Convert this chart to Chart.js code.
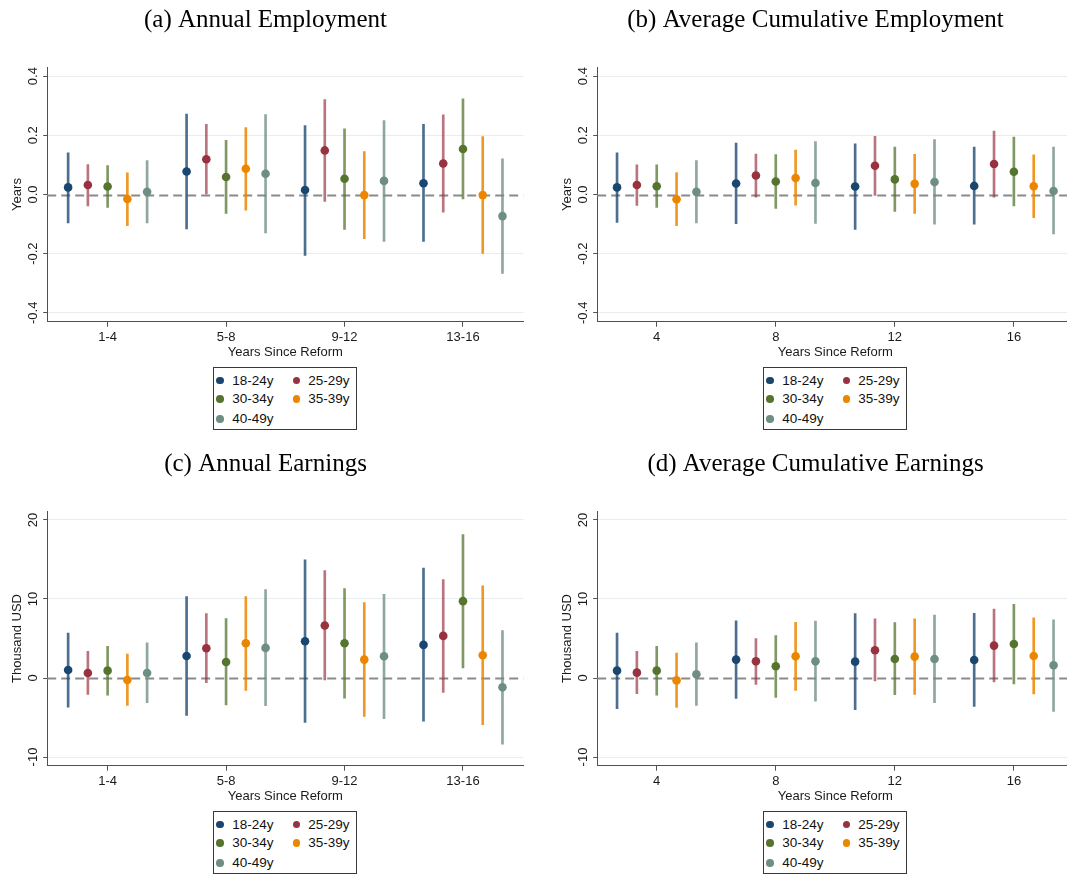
<!DOCTYPE html>
<html>
<head>
<meta charset="utf-8">
<script src="https://cdn.jsdelivr.net/npm/chart.js@4.4.1/dist/chart.umd.min.js"></script>
<style>
html,body{margin:0;padding:0;background:#fff;overflow:hidden;width:1067px;height:875px;}
#root{position:relative;width:1067px;height:875px;overflow:hidden;}
.panel{position:absolute;width:534px;height:445px;}
.panel canvas{position:absolute;left:0;top:0;}
.legend{position:absolute;left:212.7px;top:367.3px;width:144px;height:62.7px;border:1px solid #3a3a3a;box-sizing:border-box;font-family:"Liberation Sans",Arial,sans-serif;font-size:13.5px;color:#111;background:#fff;}
.item{position:absolute;white-space:nowrap;line-height:16px;height:16px;}
.dot{position:absolute;width:7.6px;height:7.6px;border-radius:50%;}
</style>
</head>
<body>
<div id="root"></div>
<script>
// ---------------- DATA ----------------
const SERIES = ['18-24y', '25-29y', '30-34y', '35-39y', '40-49y'];

// Annual panels: categories 1-4 ... 13-16
const ANNUAL_GROUPS = [1, 2, 3, 4];
const ANNUAL_TICK_LABELS = ['1-4', '5-8', '9-12', '13-16'];
// Cumulative panels: years 4, 8, 12, 16
const CUM_GROUPS = [4, 8, 12, 16];
const CUM_TICK_LABELS = ['4', '8', '12', '16'];

const EMP_TICKS = [-0.4, -0.2, 0, 0.2, 0.4];
const EMP_TICK_LABELS = ['-0.4', '-0.2', '0.0', '0.2', '0.4'];
const EARN_TICKS = [-10, 0, 10, 20];
const EARN_TICK_LABELS = ['-10', '0', '10', '20'];

// (a) Annual Employment  [series][group]
const annualEmpEst = [
  [0.024, 0.078, 0.015, 0.038],
  [0.032, 0.119, 0.149, 0.105],
  [0.027, 0.059, 0.053, 0.154],
  [-0.015, 0.087, -0.002, -0.002],
  [0.009, 0.070, 0.046, -0.073]
];
const annualEmpLo = [
  [-0.096, -0.116, -0.206, -0.159],
  [-0.039, 0.002, -0.023, -0.060],
  [-0.044, -0.064, -0.118, -0.015],
  [-0.105, -0.053, -0.149, -0.199],
  [-0.096, -0.130, -0.159, -0.267]
];
const annualEmpHi = [
  [0.141, 0.272, 0.233, 0.237],
  [0.101, 0.237, 0.321, 0.269],
  [0.098, 0.183, 0.222, 0.323],
  [0.073, 0.226, 0.145, 0.196],
  [0.115, 0.270, 0.250, 0.121]
];

// (b) Average Cumulative Employment
const cumEmpEst = [
  [0.024, 0.037, 0.027, 0.029],
  [0.032, 0.064, 0.097, 0.103],
  [0.028, 0.044, 0.051, 0.077],
  [-0.016, 0.056, 0.036, 0.028],
  [0.009, 0.039, 0.042, 0.012]
];
const cumEmpLo = [
  [-0.094, -0.099, -0.118, -0.100],
  [-0.037, -0.009, -0.003, -0.009],
  [-0.044, -0.047, -0.057, -0.039],
  [-0.105, -0.036, -0.064, -0.078],
  [-0.096, -0.098, -0.100, -0.133]
];
const cumEmpHi = [
  [0.141, 0.174, 0.171, 0.160],
  [0.100, 0.137, 0.197, 0.214],
  [0.100, 0.135, 0.160, 0.194],
  [0.074, 0.150, 0.136, 0.134],
  [0.115, 0.179, 0.186, 0.160]
];

// (c) Annual Earnings (thousand USD)
const annualEarnEst = [
  [1.01, 2.79, 4.65, 4.19],
  [0.63, 3.76, 6.64, 5.33],
  [0.93, 2.03, 4.40, 9.73],
  [-0.25, 4.40, 2.33, 2.88],
  [0.63, 3.81, 2.75, -1.18]
];
const annualEarnLo = [
  [-3.70, -4.74, -5.62, -5.45],
  [-2.07, -0.59, -0.25, -1.82],
  [-2.16, -3.42, -2.54, 1.27],
  [-3.47, -1.56, -4.86, -5.92],
  [-3.13, -3.51, -5.16, -8.37]
];
const annualEarnHi = [
  [5.70, 10.30, 14.97, 13.90],
  [3.38, 8.16, 13.60, 12.47],
  [4.00, 7.53, 11.33, 18.14],
  [3.04, 10.30, 9.56, 11.67],
  [4.44, 11.20, 10.60, 6.00]
];

// (d) Average Cumulative Earnings
const cumEarnEst = [
  [0.93, 2.33, 2.07, 2.28],
  [0.68, 2.11, 3.51, 4.10],
  [0.93, 1.48, 2.41, 4.31],
  [-0.30, 2.75, 2.71, 2.79],
  [0.47, 2.11, 2.41, 1.61]
];
const cumEarnLo = [
  [-3.89, -2.58, -4.02, -3.59],
  [-1.99, -0.80, -0.38, -0.51],
  [-2.16, -2.45, -2.11, -0.76],
  [-3.72, -1.56, -2.07, -2.03],
  [-3.47, -2.92, -3.13, -4.23]
];
const cumEarnHi = [
  [5.70, 7.23, 8.16, 8.20],
  [3.38, 4.99, 7.48, 8.71],
  [4.00, 5.37, 7.02, 9.34],
  [3.17, 7.06, 7.48, 7.61],
  [4.44, 7.19, 7.95, 7.36]
];

const REFERENCE_VALUE = 0;

// ---------------- STYLE ----------------
const DOT_COLORS = ['#1a476f', '#983240', '#55752f', '#ec8600', '#6e8e84'];
const CI_COLORS = ['rgba(26,71,111,0.78)', 'rgba(152,50,64,0.68)', 'rgba(85,117,47,0.75)', 'rgba(236,134,0,0.85)', 'rgba(110,142,132,0.78)'];
const SANS = '"Liberation Sans", Arial, Helvetica, sans-serif';
const SERIF = '"Liberation Serif", "Times New Roman", Times, serif';
const TEXT = '#1a1a1a';
const AXIS = '#505050';
const GRID = '#e8eef0';

const zeroLine = {
  id: 'zeroLine',
  beforeDatasetsDraw(chart) {
    const {ctx, chartArea: a, scales: {y}} = chart;
    const py = Math.round(y.getPixelForValue(REFERENCE_VALUE)) + 0.5;
    ctx.save();
    ctx.strokeStyle = '#8a8a8a';
    ctx.lineWidth = 1.8;
    ctx.setLineDash([9, 5]);
    ctx.beginPath();
    ctx.moveTo(a.left, py);
    ctx.lineTo(a.right, py);
    ctx.stroke();
    ctx.restore();
  }
};

const root = document.getElementById('root');

function makePanel(cfg) {
  const wrap = document.createElement('div');
  wrap.className = 'panel';
  wrap.style.left = cfg.left + 'px';
  wrap.style.top = cfg.top + 'px';
  const cv = document.createElement('canvas');
  cv.width = 534; cv.height = 445;
  cv.style.width = '534px'; cv.style.height = '445px';
  wrap.appendChild(cv);

  // legend (HTML, built from SERIES)
  const lg = document.createElement('div');
  lg.className = 'legend';
  const rows = [12.4, 31, 51];
  SERIES.forEach((name, i) => {
    const r = Math.floor(i / 2), c = i % 2;
    const dot = document.createElement('div');
    dot.className = 'dot';
    dot.style.background = DOT_COLORS[i];
    dot.style.left = (c === 0 ? 6.3 - 3.8 : 83 - 3.8) + 'px';
    dot.style.top = (rows[r] - 3.8) + 'px';
    lg.appendChild(dot);
    const it = document.createElement('div');
    it.className = 'item';
    it.textContent = name;
    it.style.left = (c === 0 ? 18.6 : 94.6) + 'px';
    it.style.top = (rows[r] - 8) + 'px';
    lg.appendChild(it);
  });
  wrap.appendChild(lg);
  root.appendChild(wrap);

  const datasets = [];
  SERIES.forEach((name, i) => {
    const off = (i - 2) * cfg.step / 6;
    datasets.push({
      type: 'scatter', label: name, order: 0,
      data: cfg.groups.map((g, j) => ({x: g + off, y: cfg.est[i][j]})),
      pointRadius: 4.3, pointHoverRadius: 4.3, pointBorderWidth: 0,
      backgroundColor: DOT_COLORS[i], borderColor: DOT_COLORS[i]
    });
    datasets.push({
      type: 'bar', label: name + ' CI', order: 1,
      data: cfg.groups.map((g, j) => ({x: g + off, y: [cfg.lo[i][j], cfg.hi[i][j]]})),
      backgroundColor: CI_COLORS[i], borderWidth: 0, barThickness: 2, grouped: false
    });
  });

  const tickFont = {family: SANS, size: 13};
  new Chart(cv, {
    type: 'scatter',
    data: {datasets},
    options: {
      responsive: false, animation: false, events: [],
      layout: {padding: {left: 7.6, right: 10.6, top: 0, bottom: 78.3}},
      plugins: {
        legend: {display: false},
        tooltip: {enabled: false},
        title: {
          display: true, text: cfg.title, color: '#000',
          font: {family: SERIF, size: 25, weight: 'normal', lineHeight: 1.2},
          padding: {top: 5, bottom: 32.3}
        }
      },
      scales: {
        x: {
          type: 'linear', min: cfg.xmin, max: cfg.xmax, offset: false,
          afterBuildTicks: s => { s.ticks = cfg.groups.map(v => ({value: v})); },
          afterFit: s => { s.height = 45; },
          ticks: {callback: (v, i) => cfg.tickLabels[i], font: tickFont, color: TEXT, padding: 3, maxRotation: 0, minRotation: 0, autoSkip: false},
          grid: {offset: false, drawOnChartArea: false, drawTicks: true, tickLength: 5, tickColor: AXIS},
          border: {color: AXIS, width: 1},
          title: {display: true, text: 'Years Since Reform', font: {family: SANS, size: 13}, color: TEXT, padding: {top: 0, bottom: 6.9}}
        },
        y: {
          type: 'linear', min: cfg.ymin, max: cfg.ymax, offset: false,
          afterBuildTicks: s => { s.ticks = cfg.yticks.map(v => ({value: v})); },
          afterFit: s => { s.width = 39.6; },
          ticks: {callback: (v, i) => cfg.yLabels[i], font: tickFont, color: TEXT, minRotation: 90, maxRotation: 90, crossAlign: 'center', padding: cfg.yPad, autoSkip: false},
          grid: {offset: false, color: c => (c.tick && c.tick.value === REFERENCE_VALUE) ? 'rgba(0,0,0,0)' : GRID, tickColor: AXIS, tickLength: 4, drawTicks: true, lineWidth: 1},
          border: {color: AXIS, width: 1},
          title: {display: true, text: cfg.ytitle, font: {family: SANS, size: 13}, color: TEXT, padding: {top: 1.6, bottom: 0}}
        }
      }
    },
    plugins: [zeroLine]
  });
}

makePanel({left: 0, top: 0, title: '(a) Annual Employment', groups: ANNUAL_GROUPS, tickLabels: ANNUAL_TICK_LABELS, step: 1, xmin: 0.49, xmax: 4.51,
  est: annualEmpEst, lo: annualEmpLo, hi: annualEmpHi, ymin: -0.43, ymax: 0.43, yticks: EMP_TICKS, yLabels: EMP_TICK_LABELS, ytitle: 'Years', yPad: -1});
makePanel({left: 550, top: 0, title: '(b) Average Cumulative Employment', groups: CUM_GROUPS, tickLabels: CUM_TICK_LABELS, step: 4, xmin: 2, xmax: 18,
  est: cumEmpEst, lo: cumEmpLo, hi: cumEmpHi, ymin: -0.43, ymax: 0.43, yticks: EMP_TICKS, yLabels: EMP_TICK_LABELS, ytitle: 'Years', yPad: -1});
makePanel({left: 0, top: 444, title: '(c) Annual Earnings', groups: ANNUAL_GROUPS, tickLabels: ANNUAL_TICK_LABELS, step: 1, xmin: 0.49, xmax: 4.51,
  est: annualEarnEst, lo: annualEarnLo, hi: annualEarnHi, ymin: -11.1, ymax: 21.1, yticks: EARN_TICKS, yLabels: EARN_TICK_LABELS, ytitle: 'Thousand USD', yPad: 0.8});
makePanel({left: 550, top: 444, title: '(d) Average Cumulative Earnings', groups: CUM_GROUPS, tickLabels: CUM_TICK_LABELS, step: 4, xmin: 2, xmax: 18,
  est: cumEarnEst, lo: cumEarnLo, hi: cumEarnHi, ymin: -11.1, ymax: 21.1, yticks: EARN_TICKS, yLabels: EARN_TICK_LABELS, ytitle: 'Thousand USD', yPad: 0.8});
</script>
</body>
</html>
